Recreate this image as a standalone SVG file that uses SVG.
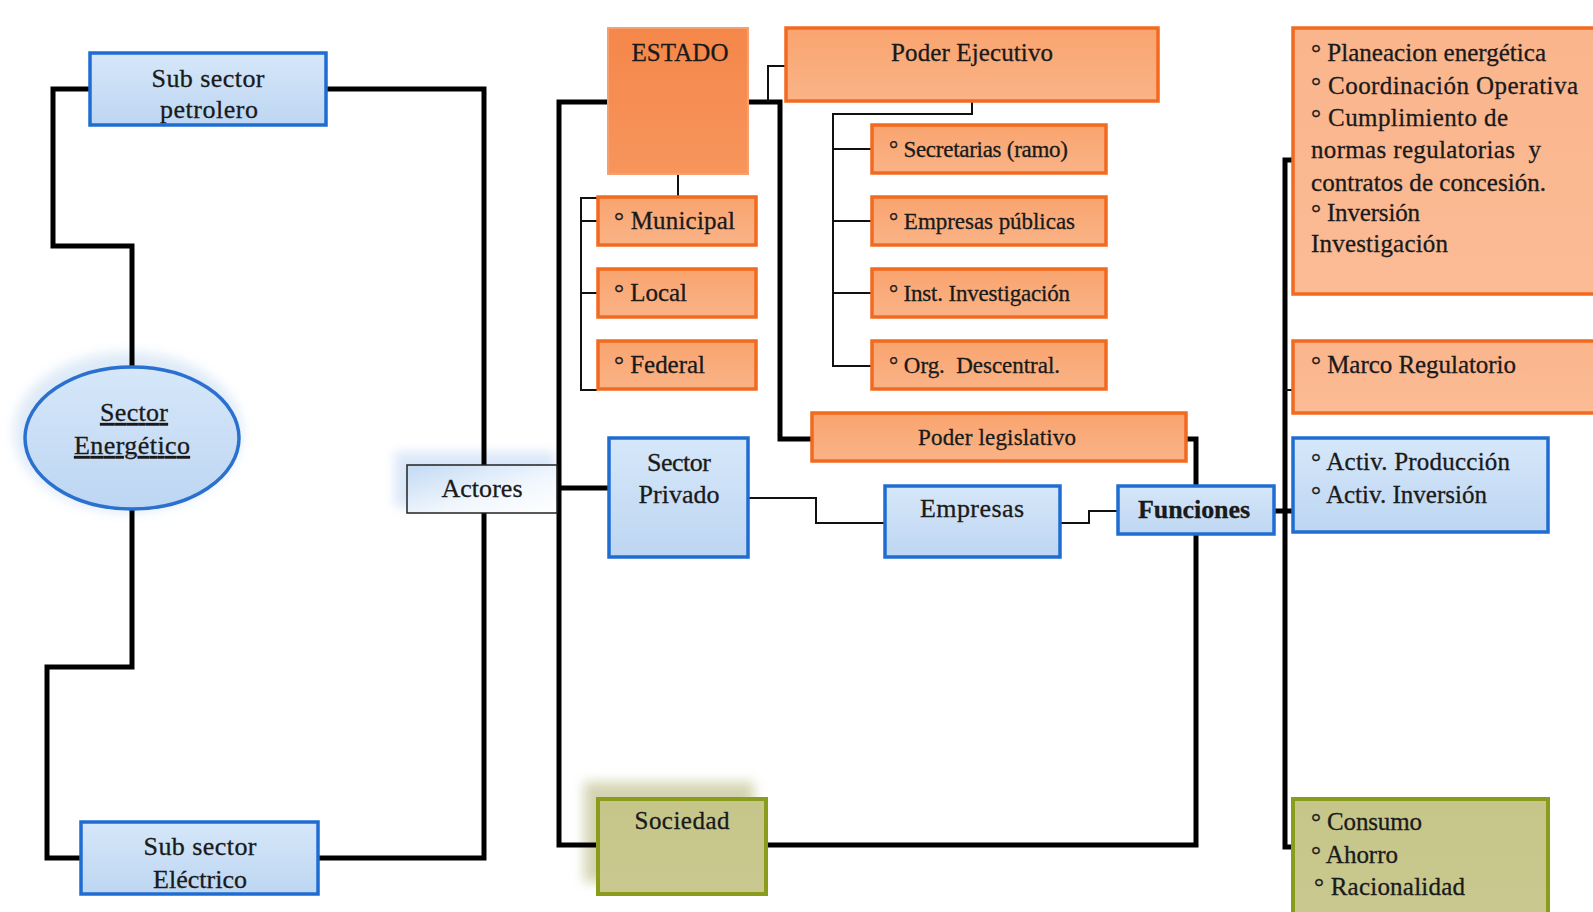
<svg xmlns="http://www.w3.org/2000/svg" width="1593" height="912" viewBox="0 0 1593 912">
  <style>
    .t { font-family: "Liberation Serif", "Times New Roman", serif; font-size: 26px; fill: #1a1a1a; stroke: #1a1a1a; stroke-width: 0.3; }
    .m { font-size: 25px; }
    .s { font-size: 23px; }
    .c { text-anchor: middle; }
    .b { font-weight: bold; }
    .blue { fill: url(#gBlue); stroke: #1f6dd2; stroke-width: 3.5; }
    .orange { fill: url(#gOrange); stroke: #f26a1f; stroke-width: 3.5; }
    .orangeDark { fill: url(#gOrangeDark); stroke: #f6a070; stroke-width: 2; }
    .olive { fill: url(#gOlive); stroke: #8a9c1c; stroke-width: 4; }
    .thick { fill: none; stroke: #000; stroke-width: 5; stroke-linejoin: miter; }
    .thin { fill: none; stroke: #111; stroke-width: 2; }
  </style>
  <defs>
    <linearGradient id="gBlue" x1="0" y1="0" x2="0" y2="1">
      <stop offset="0" stop-color="#d6e7f9"/>
      <stop offset="1" stop-color="#bdd6f2"/>
    </linearGradient>
    <linearGradient id="gActores" x1="0" y1="0" x2="1" y2="1">
      <stop offset="0" stop-color="#c2daf4"/>
      <stop offset="0.6" stop-color="#f2f7fd"/>
      <stop offset="1" stop-color="#ffffff"/>
    </linearGradient>
    <linearGradient id="gOrange" x1="0" y1="0" x2="0" y2="1">
      <stop offset="0" stop-color="#f9a46f"/>
      <stop offset="1" stop-color="#fab387"/>
    </linearGradient>
    <linearGradient id="gOrangeLight" x1="0" y1="0" x2="0" y2="1">
      <stop offset="0" stop-color="#fab58c"/>
      <stop offset="1" stop-color="#fbbb95"/>
    </linearGradient>
    <linearGradient id="gOrangeDark" x1="0" y1="0" x2="0" y2="1">
      <stop offset="0" stop-color="#f5874a"/>
      <stop offset="1" stop-color="#f7955c"/>
    </linearGradient>
    <linearGradient id="gOlive" x1="0" y1="0" x2="0" y2="1">
      <stop offset="0" stop-color="#c6c68a"/>
      <stop offset="1" stop-color="#c9c88f"/>
    </linearGradient>
    <filter id="glow" x="-20%" y="-20%" width="140%" height="140%">
      <feGaussianBlur stdDeviation="6"/>
    </filter>
  </defs>

  <rect width="1593" height="912" fill="#ffffff"/>

  <!-- soft halos behind some shapes -->
  <ellipse cx="128" cy="432" rx="114" ry="80" fill="#c8dcf3" opacity="0.6" filter="url(#glow)"/>
  <rect x="395" y="452" width="160" height="55" fill="#c9ddf5" opacity="0.7" filter="url(#glow)"/>
  <rect x="584" y="782" width="170" height="100" fill="#c9c9a0" opacity="0.8" filter="url(#glow)"/>

  <!-- connectors -->
  <g id="connectors">
    <!-- energy sector loop -->
    <polyline class="thick" points="90,89 53,89 53,246 132,246 132,366"/>
    <polyline class="thick" points="326,89 484,89 484,858 318,858"/>
    <polyline class="thick" points="132,508 132,667 47,667 47,858 81,858"/>
    <!-- actors spine -->
    <polyline class="thick" points="608,102 559,102 559,845 597,845"/>
    <line class="thick" x1="557" y1="488" x2="608" y2="488"/>
    <!-- state to powers -->
    <polyline class="thick" points="748,102 780,102 780,439 811,439"/>
    <polyline class="thin" points="768,102 768,66 785,66"/>
    <!-- state levels bracket -->
    <polyline class="thin" points="678,174 678,198 581,198 581,390 597,390"/>
    <line class="thin" x1="581" y1="221" x2="597" y2="221"/>
    <line class="thin" x1="581" y1="293" x2="597" y2="293"/>
    <!-- executive branch tree -->
    <polyline class="thin" points="972,102 972,114 833,114 833,366 871,366"/>
    <line class="thin" x1="833" y1="149" x2="871" y2="149"/>
    <line class="thin" x1="833" y1="221" x2="871" y2="221"/>
    <line class="thin" x1="833" y1="293" x2="871" y2="293"/>
    <!-- legislative / society return -->
    <polyline class="thick" points="1186,439 1196,439 1196,845 766,845"/>
    <!-- private sector chain -->
    <polyline class="thin" points="748,498 816,498 816,523 884,523"/>
    <polyline class="thin" points="1060,523 1089,523 1089,511 1117,511"/>
    <!-- functions spine -->
    <polyline class="thick" points="1294,160 1285,160 1285,847 1294,847"/>
    <line class="thick" x1="1274" y1="511" x2="1303" y2="511" stroke-width="4"/>
    <line class="thin" x1="1285" y1="390" x2="1303" y2="390"/>
  </g>

  <g id="sector-energetico">
    <ellipse cx="132" cy="438" rx="107" ry="71" fill="url(#gBlue)" stroke="#2a70cf" stroke-width="3.5"/>
    <text class="t c" x="134" y="421" textLength="68" text-decoration="underline">Sector</text>
    <text class="t c" x="132" y="454" textLength="116" text-decoration="underline">Energético</text>
  </g>

  <g id="sub-petrolero">
    <rect class="blue" x="90" y="53" width="236" height="72"/>
    <text class="t c" x="208" y="87" textLength="113">Sub sector</text>
    <text class="t c" x="209" y="118" textLength="98">petrolero</text>
  </g>

  <g id="sub-electrico">
    <rect class="blue" x="81" y="822" width="237" height="72"/>
    <text class="t c" x="200" y="855" textLength="113">Sub sector</text>
    <text class="t c" x="200" y="888" textLength="94">Eléctrico</text>
  </g>

  <g id="actores">
    <rect x="407" y="465" width="150" height="48" fill="url(#gActores)" stroke="#222" stroke-width="1.5"/>
    <text class="t c" x="482" y="497" textLength="81">Actores</text>
  </g>

  <g id="estado">
    <rect class="orangeDark" x="608" y="28" width="140" height="146"/>
    <text class="t m c" x="680" y="61" textLength="97">ESTADO</text>
  </g>

  <g id="municipal">
    <rect class="orange" x="598" y="197" width="158" height="48"/>
    <text class="t m" x="614" y="229" textLength="121">° Municipal</text>
  </g>
  <g id="local">
    <rect class="orange" x="598" y="269" width="158" height="48"/>
    <text class="t m" x="614" y="301" textLength="73">° Local</text>
  </g>
  <g id="federal">
    <rect class="orange" x="598" y="341" width="158" height="48"/>
    <text class="t m" x="614" y="373" textLength="91">° Federal</text>
  </g>

  <g id="poder-ejecutivo">
    <rect class="orange" x="786" y="28" width="372" height="73"/>
    <text class="t m c" x="972" y="61" textLength="162">Poder Ejecutivo</text>
  </g>

  <g id="secretarias">
    <rect class="orange" x="872" y="125" width="234" height="48"/>
    <text class="t s" x="889" y="157" textLength="179">° Secretarias (ramo)</text>
  </g>
  <g id="empresas-publicas">
    <rect class="orange" x="872" y="197" width="234" height="48"/>
    <text class="t s" x="889" y="229" textLength="186">° Empresas públicas</text>
  </g>
  <g id="inst-investigacion">
    <rect class="orange" x="872" y="269" width="234" height="48"/>
    <text class="t s" x="889" y="301" textLength="181">° Inst. Investigación</text>
  </g>
  <g id="org-descentral">
    <rect class="orange" x="872" y="341" width="234" height="48"/>
    <text class="t s" x="889" y="373" textLength="171" xml:space="preserve">° Org.  Descentral.</text>
  </g>

  <g id="poder-legislativo">
    <rect class="orange" x="812" y="413" width="374" height="48"/>
    <text class="t s c" x="997" y="445" textLength="158">Poder legislativo</text>
  </g>

  <g id="sector-privado">
    <rect class="blue" x="609" y="438" width="139" height="119"/>
    <text class="t c" x="679" y="471" textLength="64">Sector</text>
    <text class="t c" x="679" y="503" textLength="81">Privado</text>
  </g>

  <g id="empresas">
    <rect class="blue" x="885" y="486" width="175" height="71"/>
    <text class="t c" x="972" y="517" textLength="104">Empresas</text>
  </g>

  <g id="funciones">
    <rect class="blue" x="1118" y="486" width="156" height="48"/>
    <text class="t c b" x="1194" y="518" textLength="112">Funciones</text>
  </g>

  <g id="sociedad">
    <rect class="olive" x="598" y="799" width="168" height="95"/>
    <text class="t m c" x="682" y="829" textLength="95">Sociedad</text>
  </g>

  <g id="funciones-estado">
    <rect x="1293" y="28" width="320" height="266" fill="url(#gOrangeLight)" stroke="#f26a1f" stroke-width="3.5"/>
    <text class="t m" x="1311" y="61" textLength="235">° Planeacion energética</text>
    <text class="t m" x="1311" y="94" textLength="267">° Coordinación Operativa</text>
    <text class="t m" x="1311" y="126" textLength="197">° Cumplimiento de</text>
    <text class="t m" x="1311" y="158" textLength="230" xml:space="preserve">normas regulatorias  y</text>
    <text class="t m" x="1311" y="191" textLength="235">contratos de concesión.</text>
    <text class="t m" x="1311" y="221" textLength="109">° Inversión</text>
    <text class="t m" x="1311" y="252" textLength="137">Investigación</text>
  </g>

  <g id="marco-regulatorio">
    <rect x="1293" y="341" width="320" height="72" fill="url(#gOrangeLight)" stroke="#f26a1f" stroke-width="3.5"/>
    <text class="t m" x="1311" y="373" textLength="205">° Marco Regulatorio</text>
  </g>

  <g id="funciones-privado">
    <rect class="blue" x="1293" y="438" width="255" height="94"/>
    <text class="t m" x="1311" y="470" textLength="199">° Activ. Producción</text>
    <text class="t m" x="1311" y="503" textLength="176">° Activ. Inversión</text>
  </g>

  <g id="funciones-sociedad">
    <rect class="olive" x="1293" y="799" width="255" height="125"/>
    <text class="t m" x="1311" y="830" textLength="111">° Consumo</text>
    <text class="t m" x="1311" y="863" textLength="87">° Ahorro</text>
    <text class="t m" x="1314" y="895" textLength="151">° Racionalidad</text>
  </g>
</svg>
